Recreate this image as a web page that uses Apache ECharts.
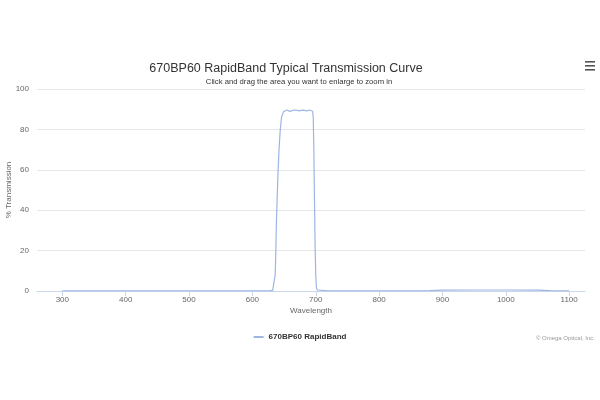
<!DOCTYPE html>
<html lang="en">
<head>
    <meta charset="UTF-8">
    <title>670BP60 RapidBand Typical Transmission Curve</title>
    <script src="https://cdn.jsdelivr.net/npm/echarts@6.0.0/dist/echarts.min.js"></script>
    <style>
        * {
            margin: 0;
            padding: 0;
        }

        body {
            background-color: #ffffff;
        }

        #chart {
            width: 600px;
            height: 400px;
        }
    </style>
</head>
<body>
    <div id="chart"></div>

    <script>
        // 波长 (nm) 和透过率 (%)，从图上读出来的
        const wavelengths = [300, 350, 400, 450, 500, 550, 600, 620, 628, 632, 634, 636, 637, 638, 640, 642, 644, 646, 649,
            652, 655, 659, 662, 666, 670, 674, 678, 682, 686, 690, 693, 695, 696, 697, 698, 699, 700, 701, 702, 705, 720,
            750, 800, 850, 880, 900, 950, 1000, 1050, 1070, 1100];
        const transmission = [0.1, 0.1, 0.1, 0.1, 0.1, 0.1, 0.1, 0.1, 0.2, 0.3, 1, 8, 20, 35, 55, 70, 80, 86, 88.7,
            89.5, 89.6, 88.9, 89.3, 89.6, 89.5, 89.2, 89.5, 89.4, 89.2, 89.6, 89.4, 89, 86, 70, 45, 22, 8, 2, 0.5, 0.2, 0.1,
            0.1, 0.1, 0.1, 0.2, 0.4, 0.5, 0.5, 0.4, 0.2, 0.1];
        const xTicks = [300, 400, 500, 600, 700, 800, 900, 1000, 1100];
        const yTicks = [0, 20, 40, 60, 80, 100];

        const seriesName = '670BP60 RapidBand';
        const points = wavelengths.map((w, i) => [w, transmission[i]]);

        const chart = echarts.init(document.getElementById('chart'));
        chart.setOption({
            animation: false,
            title: [{
                text: '670BP60 RapidBand Typical Transmission Curve',
                left: 281,
                top: 57,
                textAlign: 'center',
                textStyle: {
                    fontFamily: 'Liberation Sans',
                    fontSize: 12.5,
                    fontWeight: 'normal',
                    color: '#333333'
                }
            }, {
                text: 'Click and drag the area you want to enlarge to zoom in',
                left: 294,
                top: 73,
                textAlign: 'center',
                textStyle: {
                    fontFamily: 'Liberation Sans',
                    fontSize: 7.7,
                    fontWeight: 'normal',
                    color: '#333333'
                }
            }],
            legend: {
                data: [{ name: seriesName, icon: 'rect' }],
                left: 'center',
                top: 328,
                itemWidth: 10,
                itemHeight: 2,
                textStyle: {
                    fontFamily: 'Liberation Sans',
                    fontSize: 8,
                    fontWeight: 'bold',
                    color: '#333333'
                }
            },
            grid: {
                left: 37,
                right: 15,
                top: 89,
                bottom: 109,
                outerBoundsMode: 'none'
            },
            xAxis: {
                type: 'value',
                min: 260,
                max: 1125,
                name: 'Wavelength',
                nameLocation: 'middle',
                nameGap: 16,
                nameMoveOverlap: false,
                nameTextStyle: {
                    fontFamily: 'Liberation Sans',
                    fontSize: 8,
                    color: '#666666'
                },
                axisLine: {
                    lineStyle: { color: '#ccd6eb' }
                },
                axisTick: {
                    customValues: xTicks,
                    length: 5,
                    lineStyle: { color: '#ccd6eb' }
                },
                axisLabel: {
                    customValues: xTicks,
                    formatter: value => String(value),
                    margin: 5,
                    fontFamily: 'Liberation Sans',
                    fontSize: 8,
                    color: '#666666'
                },
                splitLine: { show: false }
            },
            yAxis: {
                type: 'value',
                min: 0,
                max: 100,
                interval: 20,
                name: '% Transmission',
                nameLocation: 'middle',
                nameGap: 24,
                nameMoveOverlap: false,
                nameTextStyle: {
                    fontFamily: 'Liberation Sans',
                    fontSize: 8,
                    color: '#666666'
                },
                axisLine: { show: false },
                axisTick: { show: false },
                axisLabel: {
                    customValues: yTicks,
                    margin: 8,
                    fontFamily: 'Liberation Sans',
                    fontSize: 8,
                    color: '#666666'
                },
                splitLine: {
                    lineStyle: { color: '#e6e6e6' }
                }
            },
            series: [{
                name: seriesName,
                type: 'line',
                data: points,
                showSymbol: false,
                color: '#9db5e3',
                lineStyle: { width: 1.2 }
            }],
            graphic: [
                // 右上角菜单图标
                { type: 'rect', shape: { x: 585, y: 61, width: 10, height: 1.6 }, style: { fill: '#555555' } },
                { type: 'rect', shape: { x: 585, y: 65, width: 10, height: 1.6 }, style: { fill: '#555555' } },
                { type: 'rect', shape: { x: 585, y: 69, width: 10, height: 1.6 }, style: { fill: '#555555' } },
                // 版权
                {
                    type: 'text',
                    right: 5,
                    top: 335,
                    style: {
                        text: '© Omega Optical, Inc.',
                        fontFamily: 'Liberation Sans',
                        fontSize: 6,
                        fill: '#999999'
                    }
                }
            ]
        });
    </script>
</body>
</html>
